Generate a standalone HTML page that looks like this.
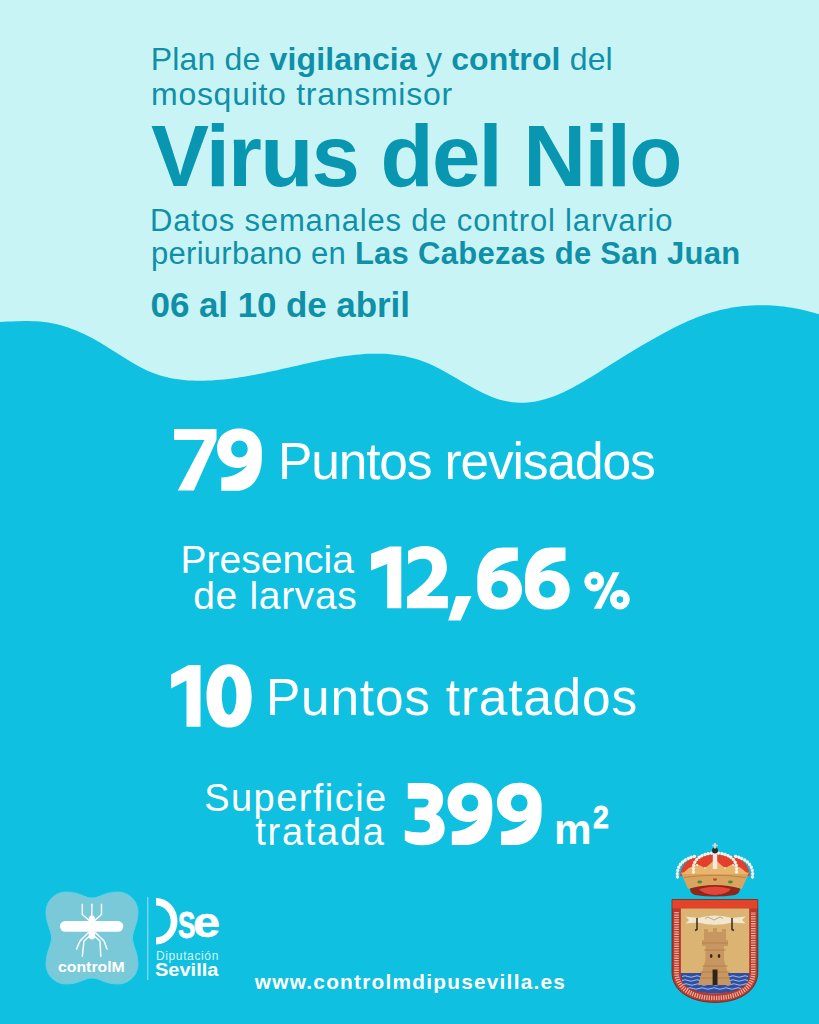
<!DOCTYPE html>
<html><head><meta charset="utf-8">
<style>
html,body{margin:0;padding:0}
body{width:819px;height:1024px;position:relative;overflow:hidden;background:#c8f4f6;font-family:"Liberation Sans",sans-serif}
.t{position:absolute;white-space:pre;line-height:1}
.teal{color:#0f90a8}
.w{color:#fff}
b{font-weight:700}
svg{position:absolute;overflow:visible}
</style></head><body>
<svg width="819" height="1024" viewBox="0 0 819 1024" style="left:0;top:0"><path fill="#0fc0e0" d="M-1,321.9 L0,321.9 L4,321.8 L8,321.6 L12,321.5 L16,321.3 L20,321.2 L24,321.1 L28,321.1 L32,321.2 L36,321.3 L40,321.6 L44,322.0 L48,322.5 L52,323.2 L56,324.0 L60,325.0 L64,326.2 L68,327.5 L72,328.9 L76,330.5 L80,332.2 L84,334.1 L88,336.0 L92,338.1 L96,340.3 L100,342.6 L104,344.9 L108,347.4 L112,349.9 L116,352.5 L120,355.0 L124,357.5 L128,360.0 L132,362.4 L136,364.8 L140,366.9 L144,369.0 L148,370.9 L152,372.6 L156,374.1 L160,375.4 L164,376.5 L168,377.5 L172,378.4 L176,379.1 L180,379.6 L184,380.1 L188,380.4 L192,380.6 L196,380.7 L200,380.7 L204,380.7 L208,380.6 L212,380.4 L216,380.1 L220,379.8 L224,379.4 L228,379.0 L232,378.5 L236,377.9 L240,377.3 L244,376.7 L248,376.0 L252,375.3 L256,374.6 L260,373.8 L264,373.0 L268,372.1 L272,371.3 L276,370.4 L280,369.5 L284,368.6 L288,367.7 L292,366.8 L296,365.9 L300,365.0 L304,364.1 L308,363.2 L312,362.3 L316,361.4 L320,360.6 L324,359.7 L328,358.9 L332,358.2 L336,357.5 L340,356.8 L344,356.2 L348,355.7 L352,355.2 L356,354.7 L360,354.4 L364,354.1 L368,353.8 L372,353.7 L376,353.7 L380,353.7 L384,353.8 L388,354.1 L392,354.4 L396,354.9 L400,355.4 L404,356.1 L408,356.9 L412,357.9 L416,359.0 L420,360.3 L424,361.7 L428,363.3 L432,365.1 L436,367.0 L440,369.1 L444,371.2 L448,373.5 L452,375.7 L456,378.1 L460,380.4 L464,382.7 L468,385.1 L472,387.3 L476,389.5 L480,391.6 L484,393.5 L488,395.3 L492,397.0 L496,398.5 L500,399.7 L504,400.8 L508,401.6 L512,402.2 L516,402.6 L520,402.7 L524,402.7 L528,402.4 L532,402.0 L536,401.4 L540,400.5 L544,399.5 L548,398.3 L552,397.0 L556,395.5 L560,393.8 L564,392.0 L568,390.0 L572,388.0 L576,385.8 L580,383.5 L584,381.2 L588,378.8 L592,376.4 L596,373.9 L600,371.4 L604,368.8 L608,366.3 L612,363.8 L616,361.2 L620,358.7 L624,356.2 L628,353.8 L632,351.4 L636,349.0 L640,346.6 L644,344.3 L648,341.9 L652,339.7 L656,337.4 L660,335.2 L664,333.0 L668,330.9 L672,328.8 L676,326.8 L680,324.8 L684,322.9 L688,321.1 L692,319.4 L696,317.8 L700,316.3 L704,314.8 L708,313.5 L712,312.3 L716,311.2 L720,310.1 L724,309.2 L728,308.4 L732,307.6 L736,307.0 L740,306.5 L744,306.0 L748,305.7 L752,305.4 L756,305.2 L760,305.2 L764,305.2 L768,305.3 L772,305.5 L776,305.8 L780,306.2 L784,306.6 L788,307.2 L792,307.8 L796,308.5 L800,309.3 L804,310.2 L808,311.2 L812,312.3 L819,314.3 L820,314.3 L820,1025 L-1,1025 Z"/></svg>
<svg width="819" height="1024" style="left:0;top:0" class="logo">
<!-- custom "1" glyphs -->
<defs><path id="g9" d="M4.2,0 L4.2,-13.4 C12.9,-13.4 22.9,-16.8 30.2,-25.3 C25.9,-23.3 22.9,-22.8 21.4,-22.8 C8.9,-22.8 0,-31.3 0,-42.3 C0,-54.3 9.4,-62.2 22.4,-62.2 C35.4,-62.2 44.7,-53.8 44.7,-40.8 L44.7,-32.8 C44.7,-12.8 33.9,0 18.9,0 Z M22.4,-50.3 C27.4,-50.3 30.6,-46.3 30.6,-41.8 C30.6,-37.3 27.4,-33.4 22.4,-33.4 C17.4,-33.4 14.1,-37.3 14.1,-41.8 C14.1,-46.3 17.4,-50.3 22.4,-50.3 Z"/><path id="g3" d="M3,-62.2 L20,-62.2 C32,-62.2 38.4,-55 38.4,-46 C38.4,-38 34,-33 31,-31 C36,-29 39.9,-24 39.9,-17 C39.9,-6 31,0 17,0 C10,0 4,-1.5 0,-4.7 L0,-15 C5,-13.5 11,-12.8 16,-12.8 C22,-12.8 25.2,-15.5 25.2,-19.5 C25.2,-23 22,-25.2 17,-25.2 L9.9,-25.2 L9.9,-37.7 L17,-37.7 C21,-37.7 23.8,-40 23.8,-43.5 C23.8,-46.5 21,-46.5 17,-46.5 L3,-46.5 Z"/><path id="g2" d="M1,-44 L1,-57.2 C6,-60.5 12,-62.2 18,-62.2 C31,-62.2 39.9,-54 39.9,-40.7 C39.9,-30 32,-22 19.7,-12.3 L40.8,-12.3 L40.8,0 L0,0 L0,-11.4 C14,-22 25.2,-30 25.2,-40.7 C25.2,-46.5 21.5,-49.4 16,-49.4 C10,-49.4 5,-46.5 1,-44 Z"/></defs>
<g fill="#fff" fill-rule="evenodd">
<path d="M371,553.8 L389.8,546.4 L401.3,546.4 L401.3,608.2 L387.2,608.2 L387.2,563.9 L371,570.6 Z M171.1,674.4 L188.5,665.1 L200.5,665.1 L200.5,726.7 L186.5,726.7 L186.5,680.5 L171.1,688.4 Z"/>
<path d="M174.1,429.1 L216.5,429.1 L216.5,440 L193.9,490.5 L177.8,490.5 L204.5,440.1 L174.1,440.1 Z"/>
<use href="#g9" transform="translate(217.1,490.8)"/>
<use href="#g2" transform="translate(407,608.2)"/>
<path d="M456,595.9 L471.6,595.9 L460.6,620.6 L448.2,620.6 Z"/>
<use href="#g9" transform="translate(522,547.4) rotate(180)"/>
<use href="#g9" transform="translate(569.7,547.4) rotate(180)"/>
<path d="M229.1,664.2 C242.7,664.2 251.7,676.9 251.7,695.9 C251.7,714.9 242.7,727.6 229.1,727.6 C215.5,727.6 206.5,714.9 206.5,695.9 C206.5,676.9 215.5,664.2 229.1,664.2 Z M229.1,676.4 C233.3,676.4 236.4,684.5 236.4,695.6 C236.4,706.7 233.3,714.8 229.1,714.8 C224.9,714.8 221.8,706.7 221.8,695.6 C221.8,684.5 224.9,676.4 229.1,676.4 Z"/>
<use href="#g3" transform="translate(404.8,845.2)"/>
<use href="#g9" transform="translate(447.6,844.9)"/>
<use href="#g9" transform="translate(496.9,844.9)"/>
<path d="M612.9,572.3 L619.5,572.3 L601.1,608.8 L593.8,608.8 Z"/>
</g>
<g fill="none" stroke="#fff" stroke-width="6.6"><circle cx="594.2" cy="581.5" r="6.6"/><circle cx="619.9" cy="599.6" r="6.6"/></g>

<!-- controlM logo -->
<path fill="#79c9d9" stroke="#5cd3e6" stroke-width="1" d="M92,898 C100,898 104,892 118,892 C129,892 138,901 138,912 C138,924 132.5,930 132.5,938 C132.5,946 138,952 138,964 C138,975 129,984 118,984 C104,984 100,978 92,978 C84,978 80,984 66,984 C55,984 46,975 46,964 C46,952 51.5,946 51.5,938 C51.5,930 46,924 46,912 C46,901 55,892 66,892 C80,892 84,898 92,898 Z"/>
<g fill="#fff">
<rect x="59.9" y="920.9" width="63.4" height="10.9" rx="5.45"/>
<ellipse cx="91.9" cy="919" rx="3.2" ry="3.6"/>
<ellipse cx="91.9" cy="926" rx="4" ry="6"/>
<ellipse cx="91.9" cy="935" rx="3.3" ry="4.5"/>
</g>
<g fill="none" stroke="#fff" stroke-width="1.4" stroke-linecap="round">
<path d="M82.3,904.2 L82.3,914.5 L89,920.3"/>
<path d="M101.5,904.2 L101.5,914.5 L95,920.3"/>
<path d="M91.9,904.2 L91.9,916"/>
<path d="M88.5,932.5 L80,941 L76.5,949.1"/>
<path d="M95.3,932.5 L104,941 L107,949.1"/>
<path d="M89.5,936 L84,941 L82.3,956.2"/>
<path d="M94.3,936 L100,941 L100.8,956.2"/>
</g>
<line x1="147.8" y1="897" x2="147.8" y2="980" stroke="#9fe3f0" stroke-width="1"/>

<!-- DSe arc -->
<path fill="#fff" d="M156,898 A21.5,23.2 0 0 1 156,944.4 L156,937.4 A14.6,15.8 0 0 0 156,905.6 Z"/>
</svg>

<svg width="819" height="1024" style="left:0;top:0" class="logo">
<!-- crest: crown -->
<g>
<path fill="#8e2619" d="M690,886 Q715,878 740,886 Q741,893 735,895 Q715,898 695,895 Q689,893 690,886 Z"/>
<path fill="#e4463a" d="M699,889 Q715,884 731,889 Q728,894 715,895 Q702,894 699,889 Z"/>
<path fill="#e2402c" d="M680,876 Q681,861 696,857 Q707,854.5 715,854.5 Q723,854.5 734,857 Q749,861 750,876 Z"/>
<path fill="#d9a55e" d="M681,872.5 L749,872.5 L742,889 Q715,881 688,889 Z"/>
<path fill="#e8b56c" d="M682,874 L689,868 L697,864 L705,868 L710,864 L715,859 L720,864 L725,868 L733,864 L741,868 L748,874 Z"/>
<path fill="none" stroke="#b8783a" stroke-width="0.8" d="M684,877.5 Q715,873 746,877.5"/>
<path fill="none" stroke="#f7f3ec" stroke-width="3.3" stroke-linecap="round" stroke-dasharray="0.1 3.2" d="M677.5,877 C676,866 683,858 697,856 M752.5,877 C754,866 747,858 733,856 M693.5,872 C692,860 700,854 713,853 M736.5,872 C738,860 730,854 717,853"/>
<rect x="712.8" y="853" width="4.4" height="16" fill="#f0eae0"/>
<ellipse cx="699.7" cy="882" rx="2.4" ry="1.4" fill="#3f8c3c"/>
<ellipse cx="730.4" cy="882" rx="2.4" ry="1.4" fill="#3f8c3c"/>
<ellipse cx="715" cy="879.5" rx="2" ry="1.3" fill="#c4442c"/>
<circle cx="697" cy="865" r="1.1" fill="#f6e6dc"/><circle cx="733" cy="865" r="1.1" fill="#f6e6dc"/>
<circle cx="705" cy="868" r="0.9" fill="#f6e6dc"/><circle cx="725" cy="868" r="0.9" fill="#f6e6dc"/>
<circle cx="715" cy="850.5" r="3" fill="#2c2c30"/>
<rect x="714" y="843" width="2" height="5.5" fill="#d8d4cc"/>
<rect x="712.3" y="844.6" width="5.4" height="1.7" fill="#d8d4cc"/>
</g>
<!-- crest: shield -->
<path fill="#b8382a" stroke="#6e2216" stroke-width="0.8" d="M672,899.6 L757.8,899.6 L757.8,972 C757.8,992 738,1002.4 714.9,1002.4 C691.8,1002.4 672,992 672,972 Z"/>
<path fill="#e2442a" d="M672.4,900 L757.4,900 L757.4,908.6 L672.4,908.6 Z"/>
<path fill="#dbb473" d="M680.9,908.6 L749.2,908.6 L749.2,971 C749.2,985 735,993.4 714.9,993.4 C694.8,993.4 680.9,985 680.9,971 Z"/>
<path fill="#2f4fa2" d="M680.9,973 L749.2,973 L749.2,975 C749.2,987 735,993.4 714.9,993.4 C694.8,993.4 680.9,987 680.9,975 Z"/>
<path fill="none" stroke="#c9d6ef" stroke-width="0.8" d="M682,976.5 q3,-1.5 6,0 t6,0 t6,0 t6,0 t6,0 t6,0 t6,0 t6,0 t6,0 t6,0 t6,0 M682,980.5 q3,-1.5 6,0 t6,0 t6,0 t6,0 t6,0 t6,0 t6,0 t6,0 t6,0 t6,0 t6,0 M683,984.5 q3,-1.5 6,0 t6,0 t6,0 t6,0 t6,0 t6,0 t6,0 t6,0 t6,0 t6,0 t6,0 M687,988.5 q3,-1.5 6,0 t6,0 t6,0 t6,0 t6,0 t6,0 t6,0 t6,0 t6,0"/>
<path fill="none" stroke="#eec2b4" stroke-width="4.6" stroke-dasharray="1.3 1.1" stroke-opacity="0.85" d="M676.5,912 L676.5,972 C676.5,989 693,998 714.9,998 C736.8,998 753.3,989 753.3,972 L753.3,912"/>
<!-- scroll and keys -->
<path fill="#f1e6d0" d="M685.5,916.5 L698,918 Q715,913 732,918 L745.6,916.5 L742,920 L745.6,923.6 L732,922.5 Q715,927 698,922.5 L685.5,923.6 L689,920 Z"/>
<path fill="none" stroke="#3a2a1a" stroke-width="1.5" d="M697,918 L697,929.5 L695,930.5 M732,918 L732,929.5 L734,930.5"/>
<path fill="none" stroke="#9a7a50" stroke-width="0.6" d="M705,918.5 q3,-3 6,0 t6,0 t6,0"/>
<!-- tower -->
<path fill="#c89660" d="M704,929 L708,929 L708,932 L713,932 L713,928 L717,928 L717,932 L722,932 L722,929 L726,929 L726,940 L728,940 L728,946 L724,946 L724,960 L731.5,985 L698,985 L705.5,960 L705.5,946 L702,946 L702,940 L704,940 Z"/>
<path fill="none" stroke="#a06a38" stroke-width="0.5" d="M702,943 L728,943 M704,950 L726,950 M702,966 L728,966 M700,972 L730,972 M699,978 L731,978"/>
<ellipse cx="711.2" cy="956" rx="1.3" ry="2" fill="#3a2a1a"/>
<ellipse cx="719" cy="956" rx="1.3" ry="2" fill="#3a2a1a"/>
<rect x="712.6" y="969.5" width="4.9" height="15.5" fill="#2e2418"/>
</svg>

<div id="e1" class="t teal" style="left:150.80px;top:42.81px;font-size:32.00px;letter-spacing:0.155px">Plan de <b>vigilancia</b> y <b>control</b> del</div>
<div id="e2" class="t teal" style="left:151.00px;top:77.81px;font-size:32.00px;letter-spacing:0.722px">mosquito transmisor</div>
<div id="e3" class="t teal" style="left:151.00px;top:112.35px;font-size:87.00px;letter-spacing:-1.769px;font-weight:700;color:#0996b0">Virus del Nilo</div>
<div id="e4" class="t teal" style="left:150.00px;top:205.06px;font-size:31.00px;letter-spacing:0.824px">Datos semanales de control larvario</div>
<div id="e5" class="t teal" style="left:151.00px;top:238.06px;font-size:31.00px;letter-spacing:0.281px">periurbano en <b>Las Cabezas de San Juan</b></div>
<div id="e6" class="t teal" style="left:150.60px;top:287.07px;font-size:35.00px;letter-spacing:-0.087px;font-weight:700">06 al 10 de abril</div>
<div id="e8" class="t w" style="left:278.00px;top:435.91px;font-size:51.50px;letter-spacing:-1.160px">Puntos revisados</div>
<div id="e9" class="t w" style="left:180.60px;top:539.69px;font-size:39.00px;letter-spacing:-0.013px">Presencia</div>
<div id="e10" class="t w" style="left:193.20px;top:576.39px;font-size:39.00px;letter-spacing:0.675px">de larvas</div>
<div id="e14" class="t w" style="left:266.00px;top:672.41px;font-size:51.50px;letter-spacing:0.743px">Puntos tratados</div>
<div id="e15" class="t w" style="left:204.20px;top:778.83px;font-size:38.00px;letter-spacing:1.444px">Superficie</div>
<div id="e16" class="t w" style="left:255.20px;top:813.43px;font-size:38.00px;letter-spacing:1.750px">tratada</div>
<div id="e18" class="t w" style="left:553.80px;top:809.02px;font-size:42.50px;letter-spacing:0.000px;font-weight:700;transform:scaleX(0.9939);transform-origin:0 0">m</div>
<div id="e19" class="t w" style="left:593.45px;top:802.48px;font-size:30.50px;letter-spacing:0.000px;font-weight:700;transform:scaleX(0.9317);transform-origin:0 0;-webkit-text-stroke:0.8px #fff">2</div>
<div id="e20" class="t w" style="left:254.80px;top:972.19px;font-size:20.80px;letter-spacing:1.248px;font-weight:700">www.controlmdipusevilla.es</div>
<div id="e21" class="t w" style="left:58.00px;top:958.50px;font-size:15.00px;letter-spacing:0.000px;font-weight:700;transform:scaleX(1.0542);transform-origin:0 0">controlM</div>
<div id="e22" class="t w" style="left:177.78px;top:906.68px;font-size:37.00px;letter-spacing:0.000px;font-weight:700;transform:scaleX(0.7043);transform-origin:0 0;-webkit-text-stroke:0.8px #fff">S</div>
<div id="e23" class="t w" style="left:192.82px;top:901.15px;font-size:42.70px;letter-spacing:0.000px;font-weight:700;transform:scaleX(1.1382);transform-origin:0 0;-webkit-text-stroke:0.6px #fff">e</div>
<div id="e24" class="t w" style="left:156.00px;top:949.54px;font-size:12.00px;letter-spacing:0.622px;color:#d4f6fc">Diputación</div>
<div id="e25" class="t w" style="left:154.98px;top:961.79px;font-size:17.50px;letter-spacing:0.000px;font-weight:700;transform:scaleX(1.1431);transform-origin:0 0">Sevilla</div>
</body></html>
